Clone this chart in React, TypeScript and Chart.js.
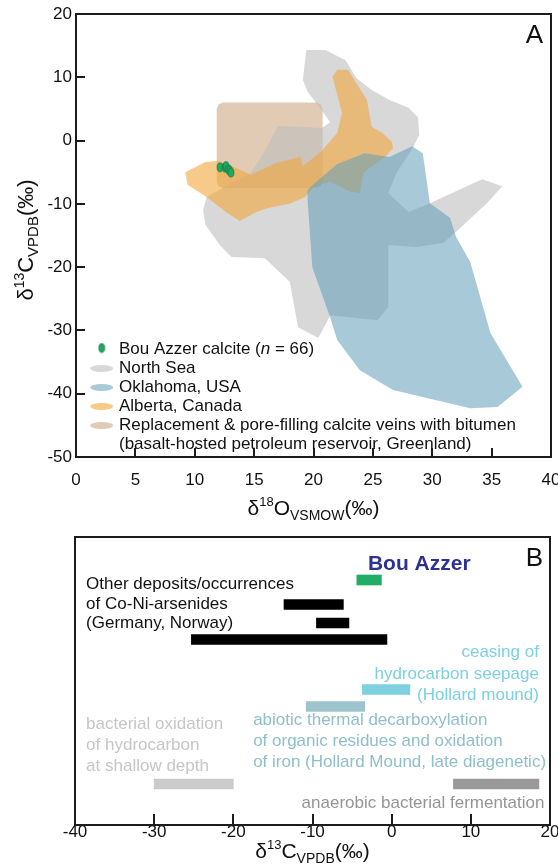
import { useEffect, useRef } from 'react';
import { Chart, registerables } from 'chart.js';

Chart.register(...registerables);

const FONT = '"Liberation Sans", Arial, Helvetica, sans-serif';

// ---------------- Panel A data ----------------
const xTicksA = [0, 5, 10, 15, 20, 25, 30, 35, 40];
const yTicksA = [20, 10, 0, -10, -20, -30, -40, -50];

const bouAzzerO = [12.13, 12.55, 12.63, 12.83, 12.94, 13.05];
const bouAzzerC = [-4.22, -4.28, -4.02, -4.54, -4.76, -5.07];
const bouAzzerN = 66;

const northSeaO = [19.4, 19.1, 19.5, 20.5, 21.4, 20.7, 18.9, 17.0, 15.7, 14.7, 11.0, 10.7, 10.9, 12.1, 13.1, 15.9, 18.0, 18.7, 20.4, 21.2, 21.4, 25.4, 26.3, 26.3, 26.3, 28.7, 30.9, 31.9, 34.6, 35.9, 34.2, 29.8, 28.0, 26.3, 27.0, 28.4, 28.9, 28.8, 28.0, 26.4, 24.9, 23.6, 22.7, 21.0];
const northSeaC = [14.3, 9.6, 7.7, 5.3, 2.9, 2.0, 2.2, 2.3, -2.3, -5.1, -8.9, -11.0, -13.3, -16.5, -18.4, -18.6, -22.3, -29.5, -31.2, -28.4, -27.6, -28.4, -26.3, -20.9, -16.5, -16.8, -16.2, -14.6, -9.9, -7.2, -6.1, -9.9, -11.3, -8.3, -5.1, -1.0, 0.9, 3.7, 5.2, 6.4, 8.0, 9.9, 12.7, 14.3];

const oklahomaO = [28.3, 29.2, 29.8, 31.5, 32.0, 33.2, 34.9, 37.6, 35.5, 33.2, 26.7, 23.9, 22.0, 21.4, 19.9, 19.5, 19.5, 20.0, 22.0, 24.3, 26.4];
const oklahomaC = [-0.9, -2.0, -9.9, -12.2, -15.2, -19.2, -30.4, -38.9, -42.1, -42.3, -39.4, -36.3, -31.5, -27.9, -20.0, -9.4, -7.8, -6.9, -3.7, -2.0, -2.6];

const albertaO = [9.2, 10.9, 12.0, 13.0, 14.7, 16.9, 18.9, 19.1, 20.6, 22.0, 22.4, 21.6, 22.0, 22.9, 23.8, 24.5, 24.9, 25.8, 26.6, 26.7, 25.9, 24.8, 24.2, 23.9, 23.1, 21.4, 20.0, 19.3, 18.0, 16.1, 15.2, 13.8, 12.7, 11.0, 9.4];
const albertaC = [-5.0, -3.4, -3.2, -3.9, -5.4, -3.5, -2.6, -4.0, -1.8, 1.2, 4.4, 10.1, 11.2, 11.2, 8.5, 6.4, 2.2, 1.2, -0.2, -1.2, -2.8, -4.2, -5.1, -8.3, -8.1, -6.5, -7.3, -8.9, -10.0, -10.7, -11.3, -12.7, -11.4, -8.9, -7.0];

const greenlandO = [12.35, 20.3, 20.62, 20.77, 20.77, 20.62, 20.3, 12.35, 12.0, 11.85, 11.85, 12.0];
const greenlandC = [6.0, 6.0, 5.7, 5.0, -6.5, -7.2, -7.5, -7.5, -7.2, -6.5, 5.0, 5.7];

const legendNames = ['Bou Azzer calcite', 'North Sea', 'Oklahoma, USA', 'Alberta, Canada', 'Replacement & pore-filling calcite veins with bitumen', '(basalt-hosted petroleum reservoir, Greenland)'];

// ---------------- Panel B data ----------------
const xTicksB = [-40, -30, -20, -10, 0, 10, 20];
const rangeNames = ['Bou Azzer', 'Co-Ni-arsenides 1', 'Co-Ni-arsenides 2', 'Co-Ni-arsenides 3', 'Hollard mound seepage', 'Hollard Mound late diagenetic', 'bacterial oxidation', 'anaerobic fermentation'];
const rangeMin = [-4.4, -13.6, -9.5, -25.3, -3.7, -10.8, -30.0, 7.8];
const rangeMax = [-1.3, -6.1, -5.4, -0.6, 2.3, -3.4, -20.0, 18.6];

// ---------------- layout / style ----------------
const rowPosB = [43, 67.5, 86, 102.5, 152.5, 169.5, 247, 247];
const barColorsB = ['#21ad65', '#000000', '#000000', '#000000', '#7ecfe0', '#9cc4cc', '#cbcbcb', '#999999'];

const notesB = [
  { lines: ['Other deposits/occurrences', 'of Co-Ni-arsenides', '(Germany, Norway)'], x: -38.6, top: 52, gap: 19.5, align: 'left', color: '#111111' },
  { lines: ['ceasing of', 'hydrocarbon seepage', '(Hollard mound)'], x: 18.6, top: 120, gap: 21.5, align: 'right', color: '#7dcfe2' },
  { lines: ['abiotic thermal decarboxylation', 'of organic residues and oxidation', 'of iron (Hollard Mound, late diagenetic)'], x: -17.5, top: 188, gap: 21, align: 'left', color: '#8ebfca' },
  { lines: ['bacterial oxidation', 'of hydrocarbon', 'at shallow depth'], x: -38.6, top: 192, gap: 21, align: 'left', color: '#c6c6c6' },
  { lines: ['anaerobic bacterial fermentation'], x: 19.3, top: 271, gap: 20, align: 'right', color: '#959595' },
];

const COL = {
  brown: 'rgba(190,140,90,0.45)',
  grey: 'rgba(190,190,190,0.6)',
  orange: 'rgba(242,167,60,0.6)',
  blue: 'rgba(97,157,184,0.55)',
};

const f = (size: number, style = '') => `${style} ${size}px ${FONT}`.trim();

type Run = { text: string; font: string; dy: number };
function drawRuns(ctx: CanvasRenderingContext2D, runs: Run[], x: number, y: number, align: 'left' | 'center' | 'right') {
  const widths = runs.map((r) => {
    ctx.font = r.font;
    return ctx.measureText(r.text).width;
  });
  const total = widths.reduce((a, b) => a + b, 0);
  let cx = align === 'center' ? x - total / 2 : align === 'right' ? x - total : x;
  ctx.textAlign = 'left';
  ctx.textBaseline = 'alphabetic';
  runs.forEach((r, i) => {
    ctx.font = r.font;
    ctx.fillText(r.text, cx, y + r.dy);
    cx += widths[i];
  });
}

function makeDot() {
  const c = document.createElement('canvas');
  c.width = 8;
  c.height = 11;
  const g = c.getContext('2d')!;
  g.beginPath();
  g.ellipse(4, 5.5, 2.9, 4.4, 0, 0, Math.PI * 2);
  g.fillStyle = '#22a862';
  g.fill();
  g.strokeStyle = '#157a45';
  g.lineWidth = 0.8;
  g.stroke();
  return c;
}

const closed = (xs: number[], ys: number[]) => {
  const pts = xs.map((x, i) => ({ x, y: ys[i] }));
  pts.push({ ...pts[0] });
  return pts;
};

const poly = (label: string, xs: number[], ys: number[], color: string, order: number) => ({
  label,
  data: closed(xs, ys),
  showLine: true,
  fill: 'shape',
  backgroundColor: color,
  borderColor: 'transparent',
  borderWidth: 0,
  pointRadius: 0,
  pointHoverRadius: 0,
  tension: 0,
  order,
});

export default function App() {
  const refA = useRef<HTMLCanvasElement>(null);
  const refB = useRef<HTMLCanvasElement>(null);

  useEffect(() => {
    const dot = makeDot();

    const panelAPlugin = {
      id: 'panelA',
      afterDraw(chart: any) {
        const { ctx, chartArea: a, scales } = chart;
        const xs = scales.x;
        const ys = scales.y;
        ctx.save();
        ctx.strokeStyle = '#1c1c1c';
        ctx.lineWidth = 2;
        ctx.strokeRect(a.left, a.top, a.right - a.left, a.bottom - a.top);
        ctx.beginPath();
        xTicksA.slice(1, -1).forEach((v) => {
          const p = Math.round(xs.getPixelForValue(v));
          ctx.moveTo(p, a.bottom);
          ctx.lineTo(p, a.bottom - 9);
        });
        yTicksA.slice(1, -1).forEach((v) => {
          const p = Math.round(ys.getPixelForValue(v));
          ctx.moveTo(a.left, p);
          ctx.lineTo(a.left + 9, p);
        });
        ctx.stroke();

        ctx.fillStyle = '#111';
        ctx.font = f(26);
        ctx.textAlign = 'right';
        ctx.textBaseline = 'alphabetic';
        ctx.fillText('A', a.right - 8, a.top + 29);

        // legend
        const tx = a.left + 43;
        const mx = a.left + 25.7;
        const base = [354, 373, 392, 411, 430, 449];
        ctx.drawImage(dot, mx - 4, base[0] - 6 - 5.5);
        drawRuns(ctx, [
          { text: legendNames[0] + ' (', font: f(17), dy: 0 },
          { text: 'n', font: f(17, 'italic'), dy: 0 },
          { text: ` = ${bouAzzerN})`, font: f(17), dy: 0 },
        ], tx, base[0], 'left');
        const mcols = [COL.grey, COL.blue, COL.orange, COL.brown];
        for (let i = 1; i <= 4; i++) {
          ctx.beginPath();
          ctx.ellipse(mx, base[i] - 4.5, 11.5, 3.4, 0, 0, Math.PI * 2);
          ctx.fillStyle = mcols[i - 1];
          ctx.fill();
        }
        ctx.fillStyle = '#111';
        for (let i = 1; i <= 5; i++) {
          drawRuns(ctx, [{ text: legendNames[i], font: f(17), dy: 0 }], tx, base[i], 'left');
        }

        // x title
        drawRuns(ctx, [
          { text: 'δ', font: f(21), dy: 0 },
          { text: '18', font: f(13), dy: -9 },
          { text: 'O', font: f(21), dy: 0 },
          { text: 'VSMOW', font: f(14), dy: 5 },
          { text: '(‰)', font: f(21), dy: 0 },
        ], (a.left + a.right) / 2, 515, 'center');

        // y title
        ctx.translate(33, 240);
        ctx.rotate(-Math.PI / 2);
        drawRuns(ctx, [
          { text: 'δ', font: f(22), dy: 0 },
          { text: '13', font: f(14), dy: -9 },
          { text: 'C', font: f(22), dy: 0 },
          { text: 'VPDB', font: f(15), dy: 5 },
          { text: '(‰)', font: f(22), dy: 0 },
        ], 0, 0, 'center');
        ctx.restore();
      },
    };

    const panelBPlugin = {
      id: 'panelB',
      afterDraw(chart: any) {
        const { ctx, chartArea: a, scales } = chart;
        const xs = scales.x;
        const ys = scales.y;
        ctx.save();
        ctx.strokeStyle = '#1c1c1c';
        ctx.lineWidth = 2;
        ctx.strokeRect(a.left, a.top, a.right - a.left, a.bottom - a.top);
        ctx.beginPath();
        xTicksB.slice(1, -1).forEach((v) => {
          const p = Math.round(xs.getPixelForValue(v));
          ctx.moveTo(p, a.bottom);
          ctx.lineTo(p, a.bottom - 11);
        });
        ctx.stroke();

        ctx.fillStyle = '#111';
        ctx.font = f(26);
        ctx.textAlign = 'right';
        ctx.textBaseline = 'alphabetic';
        ctx.fillText('B', a.right - 7, ys.getPixelForValue(29));

        ctx.fillStyle = '#2e3192';
        ctx.font = f(21, 'bold');
        ctx.textAlign = 'left';
        ctx.fillText(rangeNames[0], xs.getPixelForValue(-3.0), ys.getPixelForValue(33));

        ctx.font = f(17);
        notesB.forEach((n) => {
          ctx.fillStyle = n.color;
          ctx.textAlign = n.align as CanvasTextAlign;
          n.lines.forEach((t, i) => {
            ctx.fillText(t, xs.getPixelForValue(n.x), ys.getPixelForValue(n.top + i * n.gap));
          });
        });

        ctx.fillStyle = '#111';
        drawRuns(ctx, [
          { text: 'δ', font: f(21), dy: 0 },
          { text: '13', font: f(13), dy: -9 },
          { text: 'C', font: f(21), dy: 0 },
          { text: 'VPDB', font: f(14), dy: 5 },
          { text: '(‰)', font: f(21), dy: 0 },
        ], (a.left + a.right) / 2, 333, 'center');
        ctx.restore();
      },
    };

    const tickFont = { family: FONT, size: 17, lineHeight: 1 };

    const chartA = new Chart(refA.current!, {
      type: 'scatter',
      data: {
        datasets: [
          {
            label: legendNames[0],
            data: bouAzzerO.map((x, i) => ({ x, y: bouAzzerC[i] })),
            pointStyle: dot as any,
            pointRadius: 5,
            showLine: false,
            order: 0,
          },
          poly(legendNames[2], oklahomaO, oklahomaC, COL.blue, 1),
          poly(legendNames[3], albertaO, albertaC, COL.orange, 2),
          poly(legendNames[1], northSeaO, northSeaC, COL.grey, 3),
          poly(legendNames[4], greenlandO, greenlandC, COL.brown, 4),
        ] as any,
      },
      options: {
        responsive: false,
        maintainAspectRatio: false,
        animation: false,
        events: [],
        layout: { padding: { top: 14, right: 7, left: 0, bottom: 0 } },
        plugins: { legend: { display: false }, tooltip: { enabled: false } },
        scales: {
          x: {
            type: 'linear',
            min: 0,
            max: 40,
            grid: { display: false, drawTicks: false },
            border: { display: false },
            ticks: { font: tickFont, color: '#111', padding: 15, maxRotation: 0, autoSkip: false },
            afterBuildTicks: (s: any) => { s.ticks = xTicksA.map((v) => ({ value: v })); },
            afterFit: (s: any) => { s.height = 68; s.paddingLeft = 0; s.paddingRight = 0; },
          },
          y: {
            type: 'linear',
            min: -50,
            max: 20,
            grid: { display: false, drawTicks: false },
            border: { display: false },
            ticks: { font: tickFont, color: '#111', padding: 4, autoSkip: false },
            afterBuildTicks: (s: any) => { s.ticks = yTicksA.map((v) => ({ value: v })); },
            afterFit: (s: any) => { s.width = 76; s.paddingTop = 0; s.paddingBottom = 0; },
          },
        },
      } as any,
      plugins: [panelAPlugin],
    });

    const chartB = new Chart(refB.current!, {
      type: 'bar',
      data: {
        labels: rangeNames,
        datasets: [
          {
            data: rangeMin.map((m, i) => ({ x: [m, rangeMax[i]], y: rowPosB[i] })),
            backgroundColor: barColorsB,
            borderWidth: 0,
            barThickness: 10,
            grouped: false,
          },
        ] as any,
      },
      options: {
        indexAxis: 'y',
        responsive: false,
        maintainAspectRatio: false,
        animation: false,
        events: [],
        layout: { padding: { top: 12, right: 8, left: 75, bottom: 0 } },
        plugins: { legend: { display: false }, tooltip: { enabled: false } },
        scales: {
          x: {
            type: 'linear',
            min: -40,
            max: 20,
            grid: { display: false, drawTicks: false },
            border: { display: false },
            ticks: { font: tickFont, color: '#111', padding: -1, maxRotation: 0, autoSkip: false },
            afterBuildTicks: (s: any) => { s.ticks = xTicksB.map((v) => ({ value: v })); },
            afterFit: (s: any) => { s.height = 41; s.paddingLeft = 0; s.paddingRight = 0; },
          },
          y: {
            type: 'linear',
            min: 0,
            max: 288,
            reverse: true,
            offset: false,
            grace: 0,
            display: false,
          },
        },
      } as any,
      plugins: [panelBPlugin],
    });

    return () => {
      chartA.destroy();
      chartB.destroy();
    };
  }, []);

  return (
    <div style={{ position: 'absolute', left: 0, top: 0, width: 558, height: 866, background: '#fff' }}>
      <canvas ref={refA} width={558} height={525} style={{ position: 'absolute', left: 0, top: 0, width: 558, height: 525 }} />
      <canvas ref={refB} width={558} height={341} style={{ position: 'absolute', left: 0, top: 525, width: 558, height: 341 }} />
    </div>
  );
}
